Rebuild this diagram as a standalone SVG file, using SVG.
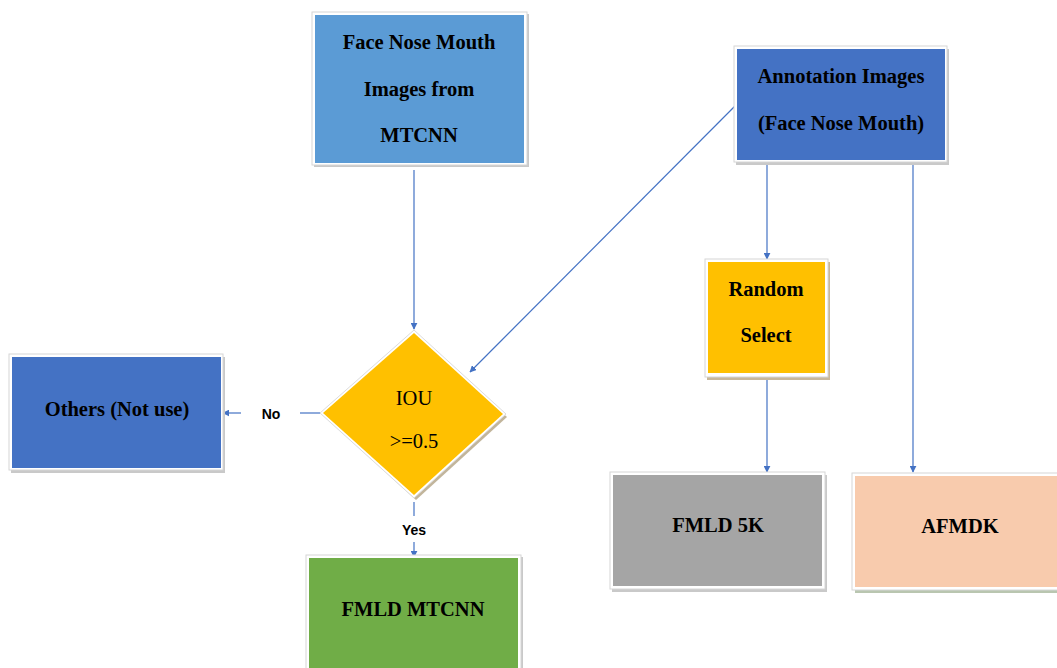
<svg xmlns="http://www.w3.org/2000/svg" width="1057" height="668" viewBox="0 0 1057 668">
  <defs>
    <style>
      .frame { fill: #ffffff; stroke: #d6d6d6; stroke-width: 1; }
      .shadow { fill: #c9c9c9; }
      .t { font-family: "Liberation Serif", "Times New Roman", serif; font-weight: bold; font-size: 20.5px; fill: #000; text-anchor: middle; dominant-baseline: middle; }
      .tr { font-family: "Liberation Serif", "Times New Roman", serif; font-size: 20.5px; fill: #000; text-anchor: middle; dominant-baseline: middle; }
      .lbl { font-family: "Liberation Sans", Arial, sans-serif; font-weight: bold; font-size: 14px; fill: #000; text-anchor: middle; dominant-baseline: middle; }
      .edge { stroke: #4472C4; stroke-width: 1.2; fill: none; }
    </style>
    <marker id="arrow" viewBox="0 0 10 10" refX="9" refY="5" markerWidth="7" markerHeight="7" markerUnits="userSpaceOnUse" orient="auto">
      <path d="M0,0 L10,5 L0,10 z" fill="#4472C4"/>
    </marker>
  </defs>

  <rect width="1057" height="668" fill="#ffffff"/>

  <!-- connectors -->
  <g id="connectors">
    <line class="edge" x1="414" y1="170" x2="414" y2="329" marker-end="url(#arrow)"/>
    <line class="edge" x1="735" y1="106" x2="470" y2="372" marker-end="url(#arrow)"/>
    <line class="edge" x1="767" y1="165" x2="767" y2="259" marker-end="url(#arrow)"/>
    <line class="edge" x1="913" y1="165" x2="913" y2="472" marker-end="url(#arrow)"/>
    <line class="edge" x1="767" y1="378" x2="767" y2="472" marker-end="url(#arrow)"/>
    <line class="edge" x1="320" y1="413" x2="300" y2="413"/>
    <line class="edge" x1="241" y1="413" x2="223" y2="413" marker-end="url(#arrow)"/>
    <text class="lbl" x="271" y="415">No</text>
    <line class="edge" x1="414" y1="502" x2="414" y2="516"/>
    <line class="edge" x1="414" y1="542" x2="414" y2="557" marker-end="url(#arrow)"/>
    <text class="lbl" x="414" y="531">Yes</text>
  </g>

  <g id="node-face-nose-mouth">
    <rect class="shadow" x="314" y="14" width="215" height="153"/>
    <rect class="frame" x="312" y="12" width="215" height="153"/>
    <rect x="315" y="15" width="209" height="148" fill="#5B9BD5"/>
    <text class="t" x="419" y="44">Face Nose Mouth</text>
    <text class="t" x="419" y="91">Images from</text>
    <text class="t" x="419" y="137">MTCNN</text>
  </g>

  <g id="node-annotation">
    <rect class="shadow" x="736" y="49" width="213" height="116"/>
    <rect class="frame" x="734" y="46" width="213" height="116"/>
    <rect x="737" y="49" width="208" height="111" fill="#4472C4"/>
    <text class="t" x="841" y="78">Annotation Images</text>
    <text class="t" x="841" y="125">(Face Nose Mouth)</text>
  </g>

  <g id="node-iou">
    <polygon points="416,334 507,417 416,500 323,415" fill="#c2b59b"/>
    <polygon points="414,330 506,414 414,498 320,413" fill="#ffffff" stroke="#dcdcdc" stroke-width="1"/>
    <polygon points="414,333 503,414 414,495 323,413" fill="#FFC000"/>
    <text class="tr" x="414" y="400">IOU</text>
    <text class="tr" x="414" y="443">&gt;=0.5</text>
  </g>

  <g id="node-others">
    <rect class="shadow" x="11" y="357" width="214" height="116"/>
    <rect class="frame" x="9" y="354" width="214" height="116"/>
    <rect x="12" y="357" width="209" height="111" fill="#4472C4"/>
    <text class="t" x="117" y="411">Others (Not use)</text>
  </g>

  <g id="node-random-select">
    <rect x="707" y="262" width="123" height="118" fill="#c9b89a"/>
    <rect class="frame" x="705" y="259" width="123" height="118"/>
    <rect x="708" y="262" width="117" height="111" fill="#FFC000"/>
    <text class="t" x="766" y="291">Random</text>
    <text class="t" x="766" y="337">Select</text>
  </g>

  <g id="node-fmld-5k">
    <rect class="shadow" x="612" y="475" width="215" height="117"/>
    <rect class="frame" x="610" y="472" width="215" height="117"/>
    <rect x="613" y="475" width="209" height="111" fill="#A5A5A5"/>
    <text class="t" x="718" y="527">FMLD 5K</text>
  </g>

  <g id="node-afmdk">
    <rect x="855" y="476" width="205" height="117" fill="#b9c6b0"/>
    <rect class="frame" x="852" y="473" width="210" height="117"/>
    <rect x="855" y="476" width="205" height="111" fill="#F8CBAD"/>
    <text class="t" x="960" y="528">AFMDK</text>
  </g>

  <g id="node-fmld-mtcnn">
    <rect class="shadow" x="309" y="557" width="214" height="115"/>
    <rect class="frame" x="306" y="555" width="215" height="115"/>
    <rect x="309" y="558" width="209" height="112" fill="#70AD47"/>
    <text class="t" x="413" y="611">FMLD MTCNN</text>
  </g>
</svg>
